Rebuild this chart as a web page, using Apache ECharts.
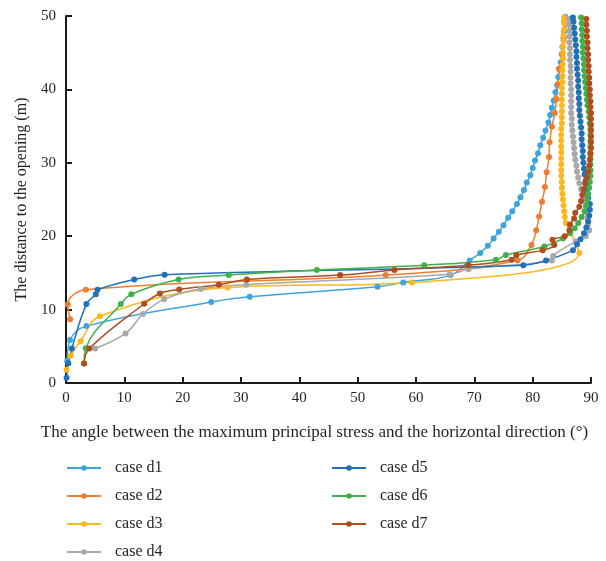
<!DOCTYPE html>
<html>
<head>
<meta charset="utf-8">
<script src="https://cdn.jsdelivr.net/npm/echarts@6/dist/echarts.min.js"></script>
<style>
  html, body { margin: 0; padding: 0; background: #fff; }
  #chart { width: 606px; height: 561px; }
</style>
</head>
<body>
<div id="chart"></div>
<script>
// Angle (deg) vs. distance to the opening (m) for each case
const seriesNames = ['case d1', 'case d2', 'case d3', 'case d4', 'case d5', 'case d6', 'case d7'];
const seriesColors = ['#3ea4dd', '#ef7d31', '#fdb71d', '#a8a8a8', '#2170b8', '#42b04a', '#ae4e1c'];

const caseD1 = [
  [0.2, 3.0], [0.7, 5.85], [3.5, 7.75], [24.9, 11.05], [31.5, 11.75], [53.4, 13.1], [57.8, 13.7],
  [65.9, 14.7], [69.2, 16.7], [71.0, 17.7], [72.3, 18.7], [73.3, 19.7], [74.2, 20.6], [75.0, 21.5],
  [75.8, 22.5], [76.5, 23.4], [77.3, 24.4], [77.9, 25.3], [78.5, 26.3], [79.0, 27.3], [79.6, 28.3],
  [80.0, 29.3], [80.4, 30.3], [80.9, 31.3], [81.3, 32.4], [81.8, 33.4], [82.2, 34.4], [82.7, 35.5],
  [83.0, 36.5], [83.3, 37.5], [83.6, 38.5], [83.9, 39.6], [84.2, 40.6], [84.4, 41.7], [84.6, 42.7],
  [84.8, 43.7], [85.0, 44.8], [85.1, 45.8], [85.3, 46.8], [85.4, 47.9], [85.5, 48.9], [85.6, 49.9]
];

const caseD2 = [
  [0.7, 8.7], [0.3, 10.7], [3.4, 12.7], [54.8, 14.7], [77.4, 16.7], [79.8, 18.8], [80.6, 20.8],
  [81.1, 22.7], [81.6, 24.7], [82.1, 26.7], [82.4, 28.7], [82.8, 30.8], [82.9, 32.8], [83.3, 34.9],
  [83.8, 36.8], [84.1, 38.7], [84.3, 40.7], [84.5, 42.8], [85.0, 44.8], [85.3, 47.1], [85.4, 49.2]
];

const caseD3 = [
  [0.1, 1.8], [0.8, 3.7], [2.5, 5.7], [5.8, 9.1], [27.7, 13.0], [59.3, 13.7], [88.0, 17.7],
  [85.7, 21.8], [85.5, 22.6], [85.4, 23.4], [85.3, 24.2], [85.2, 25.0], [85.1, 25.8], [85.0, 26.6],
  [85.0, 27.4], [84.9, 28.2], [84.9, 29.0], [84.9, 29.8], [84.9, 30.6], [84.9, 31.4], [84.9, 32.2],
  [84.9, 33.0], [84.9, 33.8], [84.9, 34.6], [85.0, 35.4], [85.0, 36.2], [85.0, 37.0], [85.0, 37.8],
  [85.0, 38.6], [85.0, 39.4], [85.0, 40.2], [85.1, 41.0], [85.1, 41.8], [85.1, 42.6], [85.1, 43.4],
  [85.2, 44.2], [85.2, 45.0], [85.2, 45.8], [85.3, 46.6], [85.3, 47.4], [85.4, 48.2], [85.4, 49.0],
  [85.4, 49.8]
];

const caseD4 = [
  [5.0, 4.7], [10.2, 6.75], [13.2, 9.4], [16.8, 11.4], [23.1, 12.8], [30.9, 13.4], [65.8, 14.8],
  [69.0, 15.5], [83.3, 16.7], [83.5, 17.3], [87.4, 19.3], [89.1, 20.0], [89.7, 20.8], [89.5, 21.6],
  [89.4, 22.4], [89.3, 23.2], [89.1, 24.0], [88.9, 24.8], [88.6, 25.6], [88.3, 26.4], [88.0, 27.2],
  [87.8, 28.0], [87.6, 28.8], [87.5, 29.6], [87.3, 30.4], [87.2, 31.2], [87.1, 32.0], [87.0, 32.8],
  [86.9, 33.6], [86.8, 34.4], [86.7, 35.2], [86.7, 36.0], [86.6, 36.8], [86.6, 37.6], [86.6, 38.4],
  [86.6, 39.2], [86.6, 40.0], [86.5, 40.8], [86.5, 41.6], [86.5, 42.4], [86.5, 43.2], [86.4, 44.0],
  [86.4, 44.8], [86.4, 45.6], [86.3, 46.4], [86.3, 47.2], [86.3, 48.0], [86.2, 48.8], [86.2, 49.6]
];

const caseD5 = [
  [0.1, 0.7], [0.4, 2.7], [1.0, 4.7], [3.5, 10.75], [5.1, 12.1], [5.4, 12.7], [11.7, 14.1],
  [16.9, 14.75], [78.4, 16.05], [82.3, 16.7], [86.9, 18.1], [87.6, 18.9], [88.2, 19.6], [88.8, 20.4],
  [89.2, 21.2], [89.5, 22.0], [89.7, 22.8], [89.8, 23.6], [89.8, 24.4], [89.5, 25.2], [89.3, 26.0],
  [89.2, 26.8], [89.1, 27.6], [88.9, 28.4], [88.8, 29.2], [88.7, 30.0], [88.6, 30.8], [88.6, 31.6],
  [88.5, 32.4], [88.4, 33.2], [88.4, 34.0], [88.3, 34.8], [88.2, 35.6], [88.1, 36.4], [88.0, 37.2],
  [88.0, 38.0], [87.9, 38.8], [87.9, 39.6], [87.8, 40.4], [87.8, 41.2], [87.7, 42.0], [87.6, 42.8],
  [87.6, 43.6], [87.5, 44.4], [87.5, 45.2], [87.4, 46.0], [87.3, 46.8], [87.2, 47.6], [87.1, 48.4],
  [87.0, 49.2], [86.9, 49.8]
];

const caseD6 = [
  [3.1, 2.65], [3.4, 4.75], [9.4, 10.75], [11.2, 12.1], [19.3, 14.1], [27.9, 14.7], [43.0, 15.4],
  [61.4, 16.05], [73.7, 16.8], [75.4, 17.45], [82.0, 18.6], [85.2, 19.7], [86.4, 20.4], [87.2, 21.1],
  [87.8, 21.8], [88.4, 22.6], [88.9, 23.4], [89.2, 24.2], [89.4, 25.0], [89.5, 25.8], [89.7, 26.6],
  [89.8, 27.4], [89.9, 28.2], [89.9, 29.0], [89.9, 29.8], [89.9, 30.6], [89.9, 31.4], [89.9, 32.2],
  [89.9, 33.0], [89.9, 33.8], [89.9, 34.6], [89.8, 35.4], [89.7, 36.2], [89.6, 37.0], [89.4, 37.8],
  [89.3, 38.6], [89.2, 39.4], [89.1, 40.2], [89.0, 41.0], [88.9, 41.8], [88.8, 42.6], [88.8, 43.4],
  [88.7, 44.2], [88.6, 45.0], [88.6, 45.8], [88.5, 46.6], [88.5, 47.4], [88.4, 48.2], [88.4, 49.0],
  [88.3, 49.8]
];

const caseD7 = [
  [3.1, 2.65], [4.0, 4.7], [13.4, 10.8], [16.1, 12.2], [19.4, 12.75], [26.2, 13.4], [31.0, 14.1],
  [47.0, 14.7], [56.3, 15.4], [69.0, 16.05], [76.4, 16.8], [77.2, 17.4], [81.7, 18.1], [83.7, 18.8],
  [83.4, 19.5], [85.5, 20.0], [86.3, 20.8], [86.4, 21.6], [87.1, 22.4], [87.3, 23.2], [88.0, 24.0],
  [88.3, 24.8], [88.5, 25.6], [88.7, 26.4], [89.0, 27.2], [89.3, 28.0], [89.5, 28.8], [89.7, 29.6],
  [89.8, 30.4], [89.9, 31.2], [90.0, 32.0], [90.0, 32.8], [90.0, 33.6], [90.0, 34.4], [90.0, 35.2],
  [90.0, 36.0], [90.0, 36.8], [89.9, 37.6], [89.9, 38.4], [89.8, 39.2], [89.8, 40.0], [89.7, 40.8],
  [89.7, 41.6], [89.6, 42.4], [89.6, 43.2], [89.5, 44.0], [89.5, 44.8], [89.4, 45.6], [89.4, 46.4],
  [89.3, 47.2], [89.3, 48.0], [89.2, 48.8], [89.2, 49.6]
];

const xTicks = { min: 0, max: 90, interval: 10 };
const yTicks = { min: 0, max: 50, interval: 10 };

const allData = [caseD1, caseD2, caseD3, caseD4, caseD5, caseD6, caseD7];

const FONT = '"Liberation Serif", "DejaVu Serif", serif';
const TEXT_COLOR = '#231f20';

const chart = echarts.init(document.getElementById('chart'), null, { renderer: 'canvas' });

// Two stacked legend columns below the plot
const legendCommon = {
  orient: 'vertical',
  padding: 0,
  itemWidth: 34,
  itemHeight: 7,
  itemGap: 12,
  top: 460,
  textStyle: { fontFamily: FONT, fontSize: 16, color: TEXT_COLOR, padding: [0, 0, 0, 9] }
};

chart.setOption({
  animation: false,
  backgroundColor: '#ffffff',
  grid: { left: 66, right: 15, top: 16, bottom: 178 },
  legend: [
    Object.assign({}, legendCommon, { left: 66, data: seriesNames.slice(0, 4) }),
    Object.assign({}, legendCommon, { left: 331, data: seriesNames.slice(4) })
  ],
  xAxis: {
    type: 'value',
    min: xTicks.min, max: xTicks.max, interval: xTicks.interval,
    name: 'The angle between the maximum principal stress and the horizontal direction (°)',
    nameLocation: 'middle',
    nameGap: 41,
    nameTextStyle: { fontFamily: FONT, fontSize: 17, color: TEXT_COLOR, padding: [0, 28, 0, 0] },
    axisLine: { show: true, lineStyle: { color: '#1a1a1a', width: 2 } },
    axisTick: { show: true, inside: true, length: 6, lineStyle: { color: '#1a1a1a', width: 2 } },
    axisLabel: { fontFamily: FONT, fontSize: 15, color: TEXT_COLOR, margin: 8 },
    splitLine: { show: false }
  },
  yAxis: {
    type: 'value',
    min: yTicks.min, max: yTicks.max, interval: yTicks.interval,
    name: 'The distance to the opening (m)',
    nameLocation: 'middle',
    nameGap: 35,
    nameRotate: 90,
    nameTextStyle: { fontFamily: FONT, fontSize: 16, color: TEXT_COLOR },
    axisLine: { show: true, lineStyle: { color: '#1a1a1a', width: 2 } },
    axisTick: { show: true, inside: true, length: 6, lineStyle: { color: '#1a1a1a', width: 2 } },
    axisLabel: { fontFamily: FONT, fontSize: 15, color: TEXT_COLOR, margin: 10 },
    splitLine: { show: false }
  },
  series: allData.map((data, i) => ({
    name: seriesNames[i],
    type: 'line',
    data: data,
    smooth: 0.4,
    symbol: 'circle',
    symbolSize: 6,
    showSymbol: true,
    clip: false,
    color: seriesColors[i],
    lineStyle: { width: 1.5, color: seriesColors[i] },
    itemStyle: { color: seriesColors[i] }
  }))
});
</script>
</body>
</html>
